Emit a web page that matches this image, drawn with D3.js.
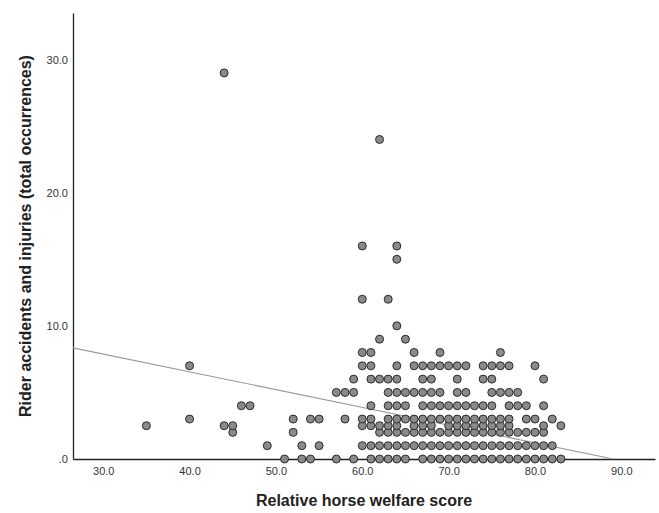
<!DOCTYPE html>
<html>
<head>
<meta charset="utf-8">
<script src="https://cdn.jsdelivr.net/npm/d3@7"></script>
<style>
  body { margin: 0; background: #fff; }
  text { font-family: "Liberation Sans", Arial, sans-serif; }
</style>
</head>
<body>
<div id="chart"></div>
<script>
const MARGIN = { top: 13, right: 4, bottom: 54, left: 73 };
const WIDTH = 659 - MARGIN.left - MARGIN.right;
const HEIGHT = 513 - MARGIN.top - MARGIN.bottom;

// DATA: each y level with the welfare scores read at that level
const rowLevels = [0, 1, 2, 2.5, 3, 4, 5, 6, 7, 8, 9, 10, 12, 15, 16, 24, 29];
const rowScores = [
  [51, 53, 54, 57, 59, 61, 62, 63, 64, 65, 67, 68, 69, 70, 71, 72, 73, 74, 75, 76, 77, 78, 79, 80, 81, 82, 83],
  [49, 53, 55, 60, 61, 62, 63, 64, 65, 66, 67, 68, 69, 70, 71, 72, 73, 74, 75, 76, 77, 78, 79, 80, 81, 82],
  [45, 52, 62, 63, 64, 65, 66, 67, 68, 69, 70, 71, 72, 73, 74, 75, 76, 77, 78, 79, 80, 81],
  [35, 44, 45, 60, 61, 62, 63, 64, 66, 67, 68, 70, 71, 72, 73, 74, 75, 76, 77, 81, 83],
  [40, 52, 54, 55, 58, 60, 61, 63, 64, 65, 66, 67, 68, 69, 70, 71, 72, 73, 74, 75, 76, 77, 79, 80, 82],
  [46, 47, 61, 63, 64, 65, 67, 68, 69, 70, 71, 72, 73, 74, 75, 77, 78, 79, 81],
  [57, 58, 59, 63, 64, 65, 66, 67, 68, 69, 71, 72, 75, 76, 77, 78],
  [59, 61, 62, 63, 64, 67, 68, 71, 74, 75, 81],
  [40, 60, 61, 64, 66, 67, 68, 69, 70, 71, 72, 74, 75, 76, 77, 80],
  [60, 61, 66, 69, 76],
  [62, 65],
  [64],
  [60, 63],
  [64],
  [60, 64],
  [62],
  [44]
];

const xTicks = [30, 40, 50, 60, 70, 80, 90];
const yTicks = [0, 10, 20, 30];
const xDomain = [26.5, 93.9];
const yDomain = [0, 33.5];

// linear fit line: y = fitIntercept + fitSlope * x
const fitIntercept = 11.88;
const fitSlope = -0.1334;

const points = [];
rowLevels.forEach((lvl, i) => {
  rowScores[i].forEach(s => points.push({ score: s, count: lvl }));
});

// CREATE SVG
let svg = d3
  .select("#chart")
  .append("svg")
  .attr("width", WIDTH + MARGIN.left + MARGIN.right)
  .attr("height", HEIGHT + MARGIN.top + MARGIN.bottom)
  .append("g")
  .attr("transform", `translate(${MARGIN.left}, ${MARGIN.top})`);

let xScale = d3.scaleLinear().domain(xDomain).range([0, WIDTH]);
let yScale = d3.scaleLinear().domain(yDomain).range([HEIGHT, 0]);

const fmt = v => (v === 0 ? ".0" : d3.format(".1f")(v));

// AXES
const xAxis = svg.append("g")
  .attr("transform", `translate(0, ${HEIGHT})`)
  .call(d3.axisBottom(xScale).tickValues(xTicks).tickFormat(fmt).tickSize(0).tickPadding(8));

const yAxis = svg.append("g")
  .call(d3.axisLeft(yScale).tickValues(yTicks).tickFormat(fmt).tickSize(0).tickPadding(5));

[xAxis, yAxis].forEach(a => {
  a.select(".domain").attr("stroke", "#222").attr("stroke-width", 1.3);
  a.selectAll("text").attr("font-size", 11).attr("fill", "#333")
    .style("font-family", '"Liberation Sans", Arial, sans-serif');
});

// FIT LINE
const xZero = -fitIntercept / fitSlope;
svg.append("line")
  .attr("x1", xScale(xDomain[0]))
  .attr("y1", yScale(fitIntercept + fitSlope * xDomain[0]))
  .attr("x2", xScale(xZero))
  .attr("y2", yScale(0))
  .attr("stroke", "#9a9a9a")
  .attr("stroke-width", 1.1);

// POINTS
svg.selectAll("circle.pt")
  .data(points)
  .enter()
  .append("circle")
  .attr("class", "pt")
  .attr("cx", d => xScale(d.score))
  .attr("cy", d => yScale(d.count))
  .attr("r", 4)
  .attr("fill", "#8a8a8a")
  .attr("stroke", "#2b2b2b")
  .attr("stroke-width", 1);

// AXIS TITLES
svg.append("text")
  .attr("x", WIDTH / 2)
  .attr("y", HEIGHT + 47)
  .attr("text-anchor", "middle")
  .attr("font-size", 16)
  .attr("font-weight", "bold")
  .attr("fill", "#222")
  .text("Relative horse welfare score");

svg.append("text")
  .attr("transform", `translate(${-42}, ${HEIGHT / 2}) rotate(-90)`)
  .attr("text-anchor", "middle")
  .attr("font-size", 16)
  .attr("font-weight", "bold")
  .attr("fill", "#222")
  .text("Rider accidents and injuries (total occurrences)");
</script>
</body>
</html>
